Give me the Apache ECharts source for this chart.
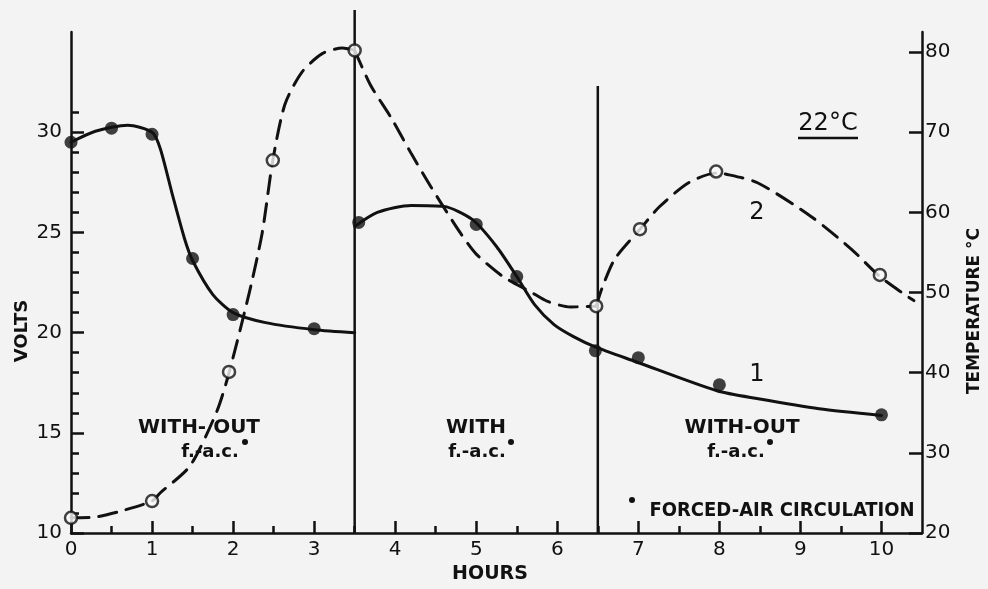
<!DOCTYPE html>
<html>
<head>
<meta charset="utf-8">
<script src="https://cdn.jsdelivr.net/npm/echarts@6/dist/echarts.min.js"></script>
<style>
  html, body { margin: 0; padding: 0; background: #f3f3f3; }
  #chart { width: 988px; height: 589px; }
</style>
</head>
<body>
<div id="chart"></div>
<script>
// ---------- data ----------
// measured points (curve 1: volts, filled circles)
const voltHours  = [0, 0.5, 1, 1.5, 2, 3, 3.55, 5, 5.5, 6.47, 7, 8, 10];
const voltValues = [29.5, 30.2, 29.9, 23.7, 20.9, 20.2, 25.5, 25.4, 22.8, 19.1, 18.75, 17.4, 15.9];
// measured points (curve 2: temperature, open circles)
const tempHours  = [0, 1, 1.95, 2.49, 3.5, 6.48, 7.02, 7.96, 9.98];
const tempValues = [21.9, 24.0, 40.1, 66.5, 80.2, 48.3, 57.9, 65.1, 52.2];

// drawn curves
const voltCurveAHours  = [0, 0.3, 0.7, 1.0, 1.1, 1.25, 1.4, 1.5, 1.75, 2.0, 2.4, 3.0, 3.5];
const voltCurveAValues = [29.5, 30.05, 30.35, 30.0, 29.2, 26.9, 24.7, 23.6, 21.9, 21.0, 20.5, 20.15, 20.0];
const voltCurveBHours  = [3.5, 3.78, 4.2, 4.6, 4.95, 5.25, 5.5, 5.72, 5.96, 6.2, 6.46, 6.97, 7.97, 8.48, 9.23, 10.0];
const voltCurveBValues = [25.3, 26.0, 26.35, 26.3, 25.65, 24.3, 22.8, 21.4, 20.4, 19.8, 19.3, 18.55, 17.1, 16.7, 16.2, 15.87];

const tempCurveAHours  = [0, 0.3, 0.6, 1.0, 1.1, 1.47, 1.8, 1.95, 2.2, 2.36, 2.49, 2.64, 2.85, 3.1, 3.35, 3.5];
const tempCurveAValues = [21.9, 22.0, 22.7, 24.0, 25.0, 28.4, 35.2, 40.0, 50.0, 57.5, 66.5, 73.5, 77.5, 79.8, 80.5, 80.2];
const tempCurveBHours  = [3.5, 3.7, 3.95, 4.2, 4.44, 4.8, 5.0, 5.33, 5.67, 5.88, 6.16, 6.48];
const tempCurveBValues = [80.2, 75.8, 71.8, 67.3, 63.2, 57.5, 54.8, 52.0, 50.1, 48.9, 48.2, 48.3];
const tempCurveCHours  = [6.48, 6.55, 6.71, 7.02, 7.26, 7.62, 7.96, 8.07, 8.47, 9.13, 9.63, 9.98, 10.28, 10.4];
const tempCurveCValues = [48.3, 50.5, 54.2, 57.9, 60.7, 63.7, 64.9, 64.8, 63.7, 59.5, 55.4, 52.0, 49.8, 49.0];

// boundary lines between the "with / without forced-air circulation" phases
const boundaryHours = [3.5, 6.5];
const boundaryTops  = [36.1, 32.3];   // in volts

// axis tick values
const hourLabels    = [0, 1, 2, 3, 4, 5, 6, 7, 8, 9, 10];
const hourMinor     = [0.5, 1.5, 2.5, 3.5, 4.5, 5.5, 6.5, 7.5, 8.5, 9.5];
const voltLabels    = [10, 15, 20, 25, 30];
const voltMinor     = [11, 12, 13, 14, 16, 17, 18, 19, 21, 22, 23, 24, 26, 27, 28, 29, 31];
const tempLabels    = [20, 30, 40, 50, 60, 70, 80];

// ---------- chart ----------
const INK = '#111111';
const BG = '#f3f3f3';
const FONT = "'DejaVu Sans', sans-serif";

const zip = (xs, ys) => xs.map((x, i) => [x, ys[i]]);

const chart = echarts.init(document.getElementById('chart'), null, { renderer: 'canvas' });

const series = [];
// solid volts curves
[[voltCurveAHours, voltCurveAValues], [voltCurveBHours, voltCurveBValues]].forEach(([h, v]) => {
  series.push({
    type: 'line', xAxisIndex: 0, yAxisIndex: 0, data: zip(h, v),
    smooth: 0.25, symbol: 'none', silent: true,
    lineStyle: { color: INK, width: 3, cap: 'round' }, z: 3
  });
});
// dashed temperature curves
[[tempCurveAHours, tempCurveAValues], [tempCurveBHours, tempCurveBValues], [tempCurveCHours, tempCurveCValues]].forEach(([h, v]) => {
  series.push({
    type: 'line', xAxisIndex: 0, yAxisIndex: 2, data: zip(h, v),
    smooth: 0.25, symbol: 'none', silent: true,
    lineStyle: { color: INK, width: 3, type: [18, 10], cap: 'round' }, z: 3
  });
});
// boundary verticals
boundaryHours.forEach((h, i) => {
  series.push({
    type: 'line', xAxisIndex: 0, yAxisIndex: 0, data: [[h, 10], [h, boundaryTops[i]]],
    symbol: 'none', clip: false, silent: true,
    lineStyle: { color: INK, width: 2.5 }, z: 2
  });
});
// volts points
series.push({
  type: 'scatter', xAxisIndex: 0, yAxisIndex: 0, data: zip(voltHours, voltValues),
  symbol: 'circle', symbolSize: 13, itemStyle: { color: INK }, z: 5
});
// temperature points
series.push({
  type: 'scatter', xAxisIndex: 0, yAxisIndex: 2, data: zip(tempHours, tempValues),
  symbol: 'circle', symbolSize: 12,
  itemStyle: { color: '#fafafa', borderColor: INK, borderWidth: 2.5 }, z: 6
});

function txt(x, y, text, size, weight, rot, family) {
  return {
    type: 'text', x: x, y: y, rotation: rot || 0, silent: true, z: 10,
    style: {
      text: text, fill: INK,
      fontSize: size, fontWeight: weight || 'normal', fontFamily: family || FONT,
      align: 'center', verticalAlign: 'middle',
      textAlign: 'center', textVerticalAlign: 'middle'
    }
  };
}
function dot(x, y) {
  return { type: 'circle', silent: true, z: 10, shape: { cx: x, cy: y, r: 3 }, style: { fill: INK } };
}

const option = {
  backgroundColor: BG,
  animation: false,
  grid: { left: 71, right: 66, top: 32, bottom: 54, containLabel: false },
  xAxis: [
    {
      type: 'value', min: 0, max: 10.5, position: 'bottom',
      axisLine: { show: true, onZero: false, lineStyle: { color: INK, width: 2.5 } },
      axisTick: { show: true, inside: true, length: 12, customValues: hourLabels, lineStyle: { color: INK, width: 2.5 } },
      axisLabel: { show: true, customValues: hourLabels, margin: 7, color: INK, fontSize: 20, fontFamily: FONT },
      splitLine: { show: false },
      name: 'HOURS', nameLocation: 'middle', nameGap: 30,
      nameTextStyle: { color: INK, fontSize: 19, fontWeight: 'bold', fontFamily: FONT, padding: [0, 13, 0, 0] }
    },
    {
      type: 'value', min: 0, max: 10.5, position: 'bottom', offset: 0,
      axisLine: { show: false, onZero: false },
      axisTick: { show: true, inside: true, length: 7, customValues: hourMinor, lineStyle: { color: INK, width: 2.5 } },
      axisLabel: { show: false },
      splitLine: { show: false }
    }
  ],
  yAxis: [
    {
      type: 'value', min: 10, max: 35, position: 'left',
      axisLine: { show: true, onZero: false, lineStyle: { color: INK, width: 2.5 } },
      axisTick: { show: true, inside: true, length: 13, customValues: voltLabels, lineStyle: { color: INK, width: 2.5 } },
      axisLabel: { show: true, customValues: voltLabels, margin: 9, color: INK, fontSize: 20, fontFamily: FONT },
      splitLine: { show: false }
    },
    {
      type: 'value', min: 10, max: 35, position: 'left', offset: 0,
      axisLine: { show: false, onZero: false },
      axisTick: { show: true, inside: true, length: 8, customValues: voltMinor, lineStyle: { color: INK, width: 2.5 } },
      axisLabel: { show: false },
      splitLine: { show: false }
    },
    {
      type: 'value', min: 20, max: 82.5, position: 'right', offset: 0,
      axisLine: { show: true, onZero: false, lineStyle: { color: INK, width: 2.5 } },
      axisTick: { show: true, inside: true, length: 13, customValues: tempLabels, lineStyle: { color: INK, width: 2.5 } },
      axisLabel: { show: true, customValues: tempLabels, margin: 3, color: INK, fontSize: 20, fontFamily: FONT },
      splitLine: { show: false }
    }
  ],
  series: series,
  graphic: [
    txt(22, 331, 'VOLTS', 18, 'bold', Math.PI / 2),
    txt(975, 311, 'TEMPERATURE °C', 17, 'bold', Math.PI / 2),
    txt(828, 124, '22°C', 24, 'normal'),
    { type: 'line', silent: true, z: 10, shape: { x1: 798, y1: 138, x2: 858, y2: 138 }, style: { stroke: INK, lineWidth: 2.5 } },
    txt(757, 213, '2', 24, 'normal'),
    txt(757, 375, '1', 24, 'normal'),
    txt(199, 428, 'WITH- OUT', 20, 'bold'),
    txt(210, 452, 'f.-a.c.', 18, 'bold'),
    dot(245, 442),
    txt(476, 428, 'WITH', 20, 'bold'),
    txt(477, 452, 'f.-a.c.', 18, 'bold'),
    dot(511, 442),
    txt(742, 428, 'WITH-OUT', 20, 'bold'),
    txt(736, 452, 'f.-a.c.', 18, 'bold'),
    dot(770, 442),
    dot(632, 500),
    txt(782, 511, 'FORCED-AIR CIRCULATION', 20, 'bold', 0, "'DejaVu Sans Condensed', 'DejaVu Sans', sans-serif")
  ]
};

chart.setOption(option);
</script>
</body>
</html>
